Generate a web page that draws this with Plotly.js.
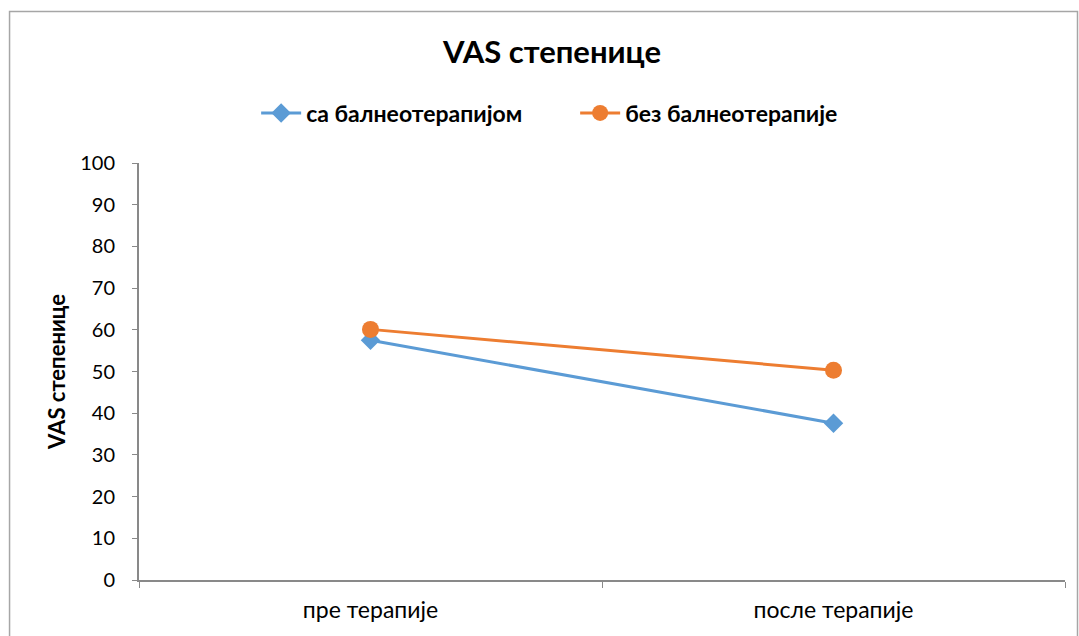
<!DOCTYPE html>
<html><head><meta charset="utf-8">
<script src="https://cdn.plot.ly/plotly-3.0.1.min.js"></script>
<style>html,body{margin:0;padding:0;background:#fff}#c{width:1079px;height:636px}</style>
</head><body><div id="c"></div>
<script>
const categories = ["пре терапије", "после терапије"];
const withBalneo = [57.5, 37.6];
const withoutBalneo = [60.1, 50.3];
const seriesNames = ["са балнеотерапијом", "без балнеотерапије"];
const yTicks = [0,10,20,30,40,50,60,70,80,90,100];

const font = "Lato, 'Open Sans', 'Liberation Sans', sans-serif";
const traces = [
  {x: categories, y: withBalneo, name: "<b>" + seriesNames[0] + "</b>", type: "scatter", mode: "lines+markers",
   line: {color: "#5B9BD5", width: 3}, marker: {symbol: "diamond", size: 15, color: "#5B9BD5"}},
  {x: categories, y: withoutBalneo, name: "<b>" + seriesNames[1] + "</b>", type: "scatter", mode: "lines+markers",
   line: {color: "#ED7D31", width: 3}, marker: {symbol: "circle", size: 17, color: "#ED7D31"}}
];
const layout = {
  width: 1079, height: 636,
  margin: {l: 139, r: 14, t: 163, b: 56},
  paper_bgcolor: "#fff", plot_bgcolor: "#fff",
  font: {family: font, color: "#000"},
  title: {text: "<b>VAS степенице</b>", font: {size: 31, family: font, color: "#000"},
          x: 0.5116, xanchor: "center", y: 0.918, yanchor: "middle"},
  showlegend: true,
  legend: {orientation: "h", x: 0.471, xanchor: "center", y: 1.12, yanchor: "middle",
           font: {size: 23, family: font, color: "#000"}, itemwidth: 40, traceorder: "normal",
           entrywidth: 264, entrywidthmode: "pixels"},
  xaxis: {type: "category", showgrid: false, zeroline: false, showline: true, linecolor: "#898989", linewidth: 2,
          ticks: "outside", tickson: "boundaries", ticklen: 6, tickcolor: "#898989", tickwidth: 1,
          ticklabelstandoff: 8,
          tickfont: {size: 23, family: font, color: "#000"}, range: [-0.5, 1.5], fixedrange: true},
  yaxis: {range: [0, 100], tickvals: yTicks, showgrid: false, zeroline: false, showline: true,
          linecolor: "#898989", linewidth: 2, ticks: "outside", ticklen: 5, tickcolor: "#898989",
          ticklabelstandoff: 13,
          tickfont: {size: 20, family: font, color: "#000"},
          title: {text: "<b>VAS степенице</b>", font: {size: 22, family: font, color: "#000"}, standoff: 8}},
  shapes: [{type: "rect", xref: "paper", yref: "paper", x0: -0.1398, x1: 1.0135, y0: -0.2, y1: 1.3633,
            line: {color: "#A6A6A6", width: 1.5}, fillcolor: "rgba(0,0,0,0)", layer: "below"}]
};
Plotly.newPlot("c", traces, layout, {displayModeBar: false, staticPlot: true});
</script></body></html>
